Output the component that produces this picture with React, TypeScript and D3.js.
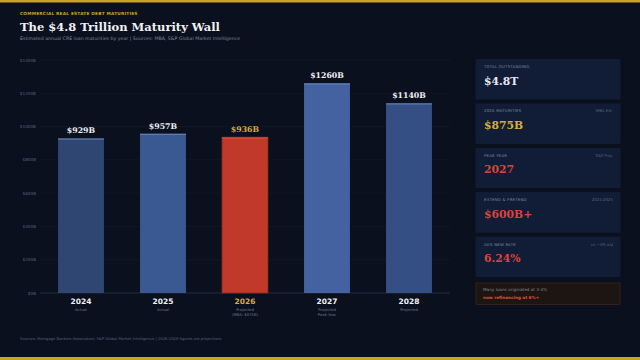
import React from "react";
import * as d3 from "d3";

const years = ["2024", "2025", "2026", "2027", "2028"];
const maturities = [929, 957, 936, 1260, 1140];
const subLabels = [["Actual"], ["Actual"], ["Projected", "(MBA: $875B)"], ["Projected", "Peak Year"], ["Projected"]];
const barColors = ["#2f4673", "#3a5892", "#c0392b", "#4462a0", "#344f84"];
const yTicks = [0, 200, 400, 600, 800, 1000, 1200, 1400];

const cardLabels = ["TOTAL OUTSTANDING", "2026 MATURITIES", "PEAK YEAR", "EXTEND & PRETEND", "AVG NEW RATE"];
const cardNotes = ["", "MBA Est.", "S&P Proj.", "2024-2025", "vs ~4% old"];
const cardValues = ["$4.8T", "$875B", "2027", "$600B+", "6.24%"];
const cardColors = ["#e8e8ee", "#d9ad3c", "#d9453a", "#d9453a", "#d9453a"];

const W = 640, H = 360;
const GOLD = "#c9a227";

export default function App() {
  const x = d3.scaleBand<string>().domain(years).range([40, 450]).paddingInner(0.44).paddingOuter(0.22);
  const y = d3.scaleLinear().domain([0, 1400]).range([293, 60]);
  const sans = "'DejaVu Sans', sans-serif";
  const serif = "'DejaVu Serif', serif";
  return (
    <div style={{ position: "fixed", left: 0, top: 0, width: W, height: H }}>
      <svg width={W} height={H} style={{ display: "block" }}>
        <rect width={W} height={H} fill="#0b101e" />
        <rect x={0} y={0} width={W} height={2.5} fill={GOLD} />
        <rect x={0} y={357} width={W} height={3} fill={GOLD} />
        <text x={20} y={15} fill={GOLD} fontFamily={sans} fontWeight="bold" fontSize={4.3} letterSpacing={0.2}>COMMERCIAL REAL ESTATE DEBT MATURITIES</text>
        <text x={20} y={31} fill="#f0f0f4" fontFamily={serif} fontWeight="bold" fontSize={11.5}>The $4.8 Trillion Maturity Wall</text>
        <text x={20} y={40} fill="#7d8699" fontFamily={sans} fontSize={4.7}>Estimated annual CRE loan maturities by year  |  Sources: MBA, S&amp;P Global Market Intelligence</text>

        {yTicks.map((t) => (
          <g key={t}>
            <line x1={40} x2={450} y1={y(t)} y2={y(t)} stroke={t === 0 ? "#2a3246" : "#151c2c"} strokeWidth={t === 0 ? 0.8 : 0.6} />
            <text x={36} y={y(t) + 1.5} textAnchor="end" fill="#59627a" fontFamily={sans} fontSize={4.2}>{`$${t}B`}</text>
          </g>
        ))}

        {years.map((yr, i) => {
          const bx = x(yr)!;
          const bw = x.bandwidth();
          const top = y(maturities[i]);
          const hl = i === 2;
          return (
            <g key={yr}>
              <rect x={bx} y={top} width={bw} height={y(0) - top} fill={barColors[i]} stroke={hl ? "#8e2a20" : "none"} strokeWidth={hl ? 0.8 : 0} />
              <rect x={bx} y={top} width={bw} height={1.3} fill={hl ? "#d9574a" : "#6a84b8"} opacity={0.8} />
              <text x={bx + bw / 2} y={top - 5} textAnchor="middle" fill={hl ? "#d9ad3c" : "#eef0f5"} fontFamily={serif} fontWeight="bold" fontSize={7.8}>{`$${maturities[i]}B`}</text>
              <text x={bx + bw / 2} y={304} textAnchor="middle" fill={hl ? "#d9ad3c" : "#eef0f5"} fontFamily={sans} fontWeight="bold" fontSize={7.5}>{yr}</text>
              {subLabels[i].map((s, j) => (
                <text key={j} x={bx + bw / 2} y={311 + j * 5.3} textAnchor="middle" fill="#6d768b" fontFamily={sans} fontSize={3.8}>{s}</text>
              ))}
            </g>
          );
        })}

        <text x={20} y={340} fill="#59627a" fontFamily={sans} fontSize={3.75}>Sources: Mortgage Bankers Association; S&amp;P Global Market Intelligence  |  2026-2028 figures are projections</text>

        {cardLabels.map((lab, i) => {
          const cy = 59.5 + i * 44.4;
          return (
            <g key={lab}>
              <rect x={476} y={cy} width={144} height={39.5} fill="#111c36" stroke="#16223d" strokeWidth={0.6} />
              <text x={484} y={cy + 8.5} fill="#7d8699" fontFamily={sans} fontSize={3.9} letterSpacing={0.2}>{lab}</text>
              {cardNotes[i] && (
                <text x={613} y={cy + 8.5} textAnchor="end" fill="#5d667c" fontFamily={sans} fontSize={3.9}>{cardNotes[i]}</text>
              )}
              <text x={484} y={cy + 25} fill={cardColors[i]} fontFamily={serif} fontWeight="bold" fontSize={10.8}>{cardValues[i]}</text>
            </g>
          );
        })}
        <rect x={476} y={283} width={144} height={21.5} fill="#1c1511" stroke="#3a2617" strokeWidth={0.8} />
        <text x={483} y={291} fill="#8a8690" fontFamily={sans} fontSize={4.2}>Many loans originated at 3-4%</text>
        <text x={483} y={298.5} fill="#e0503f" fontFamily={sans} fontWeight="bold" fontSize={4.2}>now refinancing at 6%+</text>
      </svg>
    </div>
  );
}
